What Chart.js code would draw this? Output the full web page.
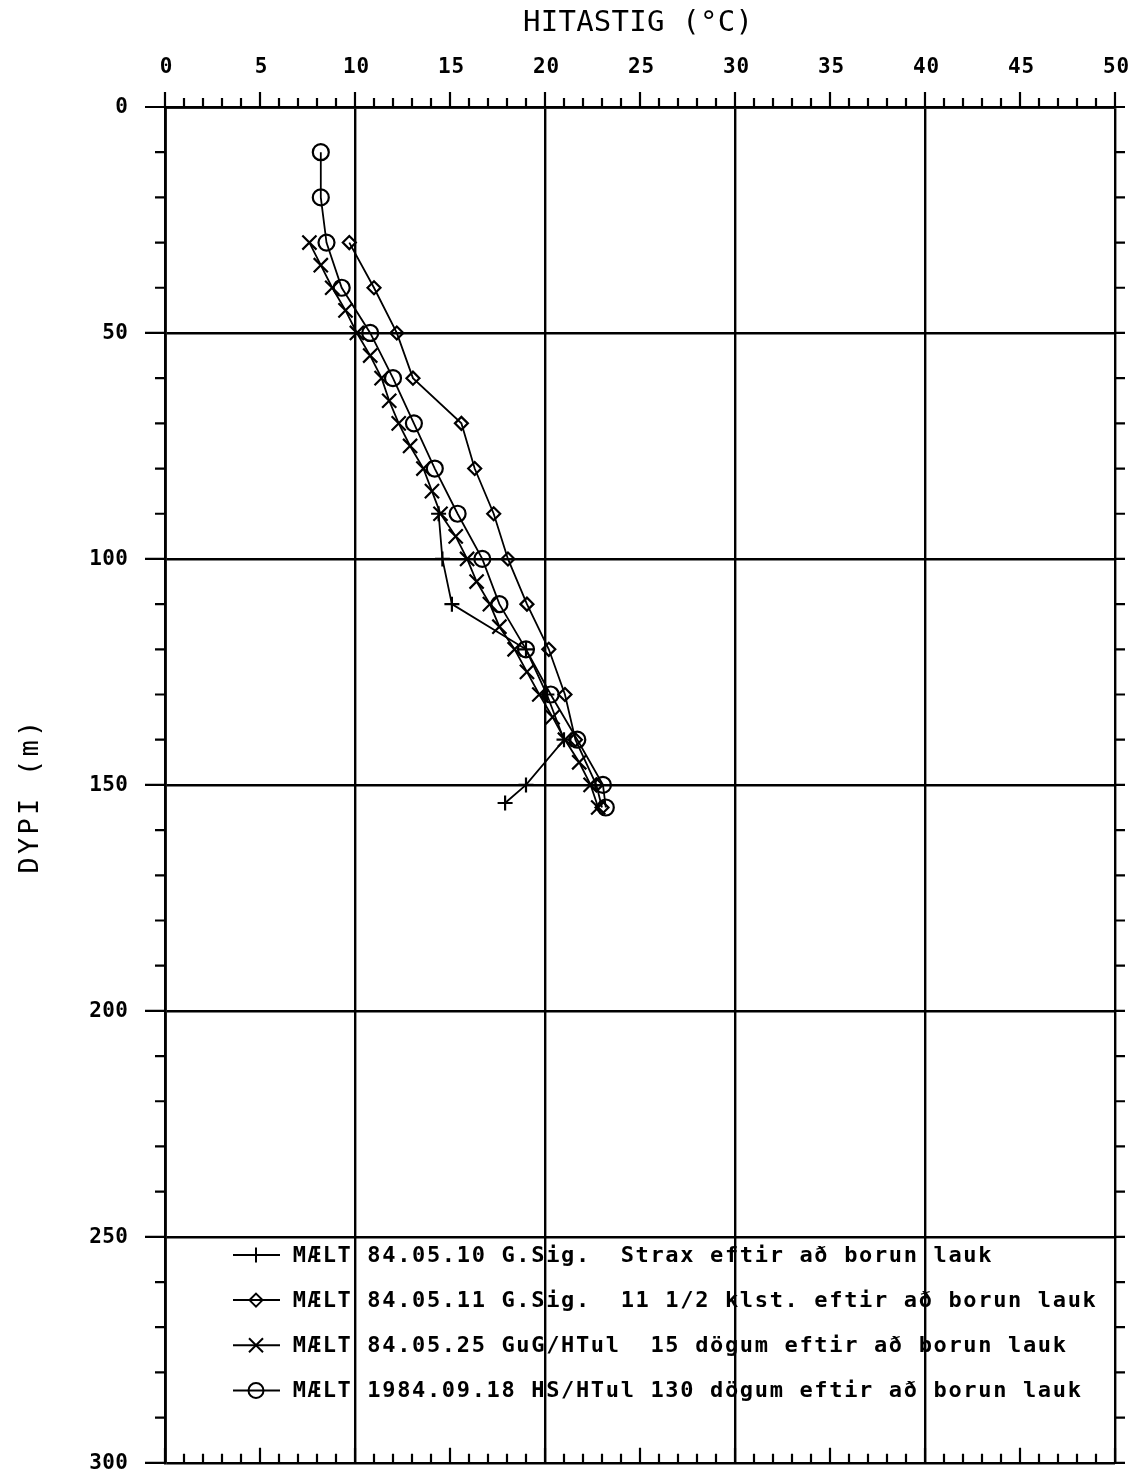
<!DOCTYPE html>
<html>
<head>
<meta charset="utf-8">
<script src="https://cdn.jsdelivr.net/npm/chart.js@4.4.1/dist/chart.umd.min.js"></script>
<style>
    html, body { margin: 0; padding: 0; background: #fff; }
    canvas { display: block; }
</style>
</head>
<body>
<canvas id="board" width="1129" height="1475"></canvas>
<script>
// temperature logs (°C) against depth (m), one pair of arrays per run
const depthStrax = [90, 100, 110, 120, 130, 140, 150, 154];
const tempStrax  = [14.4, 14.6, 15.1, 19.0, 20.1, 21.0, 19.0, 17.9];

const depthKlst = [30, 40, 50, 60, 70, 80, 90, 100, 110, 120, 130, 140, 150, 155];
const tempKlst  = [9.7, 11.0, 12.2, 13.05, 15.6, 16.3, 17.3, 18.05, 19.05, 20.2, 21.05, 21.6, 22.7, 23.0];

const depth15 = [30, 35, 40, 45, 50, 55, 60, 65, 70, 75, 80, 85, 90, 95, 100,
    105, 110, 115, 120, 125, 130, 135, 140, 145, 150, 155];
const temp15  = [7.6, 8.2, 8.8, 9.5, 10.1, 10.8, 11.4, 11.8, 12.3, 12.9, 13.6, 14.05, 14.5, 15.3, 15.9,
    16.4, 17.1, 17.6, 18.4, 19.05, 19.7, 20.4, 21.05, 21.8, 22.4, 22.8];

const depth130 = [10, 20, 30, 40, 50, 60, 70, 80, 90, 100, 110, 120, 130, 140, 150, 155];
const temp130  = [8.2, 8.2, 8.5, 9.3, 10.8, 12.0, 13.1, 14.2, 15.4, 16.7, 17.6, 19.0, 20.3, 21.7, 23.05, 23.2];

const xTickLabels = ['0', '5', '10', '15', '20', '25', '30', '35', '40', '45', '50'];
const yTickLabels = ['0', '50', '100', '150', '200', '250', '300'];

const legendTexts = [
    'MÆLT 84.05.10 G.Sig.  Strax eftir að borun lauk',
    'MÆLT 84.05.11 G.Sig.  11 1/2 klst. eftir að borun lauk',
    'MÆLT 84.05.25 GuG/HTul  15 dögum eftir að borun lauk',
    'MÆLT 1984.09.18 HS/HTul 130 dögum eftir að borun lauk'
];

function toPoints(temps, depths) {
    let arr = [];
    for (let i = 0; i < temps.length; ++i) {
        arr.push({ x: temps[i], y: depths[i] });
    }
    return arr;
}

const markers = [
    { pointStyle: 'cross', radius: 7.5 },
    { pointStyle: 'rectRot', radius: 6.5 },
    { pointStyle: 'crossRot', radius: 10 },
    { pointStyle: 'circle', radius: 8 }
];

function makeSet(temps, depths, m) {
    return {
        data: toPoints(temps, depths),
        showLine: true,
        borderColor: '#000',
        borderWidth: 1.8,
        backgroundColor: 'rgba(0,0,0,0)',
        pointStyle: m.pointStyle,
        pointRadius: m.radius,
        pointBorderWidth: 2.2,
        pointBorderColor: '#000',
        pointBackgroundColor: 'rgba(0,0,0,0)',
        tension: 0
    };
}

// fixed-advance text, like the old plotter lettering
function drawMono(ctx, str, x, y, adv) {
    ctx.textAlign = 'center';
    for (let i = 0; i < str.length; ++i) {
        ctx.fillText(str[i], x + adv * (i + 0.5), y);
    }
}

function drawMarker(ctx, style, x, y) {
    ctx.beginPath();
    if (style === 'cross') {
        ctx.moveTo(x - 7.5, y); ctx.lineTo(x + 7.5, y);
        ctx.moveTo(x, y - 7.5); ctx.lineTo(x, y + 7.5);
    } else if (style === 'rectRot') {
        ctx.moveTo(x, y - 6.5); ctx.lineTo(x + 6.5, y);
        ctx.lineTo(x, y + 6.5); ctx.lineTo(x - 6.5, y); ctx.closePath();
    } else if (style === 'crossRot') {
        ctx.moveTo(x - 7, y - 7); ctx.lineTo(x + 7, y + 7);
        ctx.moveTo(x + 7, y - 7); ctx.lineTo(x - 7, y + 7);
    } else {
        ctx.arc(x, y, 7.5, 0, Math.PI * 2);
    }
    ctx.stroke();
}

const plotterAxes = {
    id: 'plotterAxes',
    afterDraw(chart) {
        const ctx = chart.ctx;
        const xs = chart.scales.x;
        const ys = chart.scales.y;
        const area = chart.chartArea;

        ctx.save();
        ctx.strokeStyle = '#000';
        ctx.fillStyle = '#000';
        ctx.lineWidth = 2.2;

        // small ticks every degree, longer every 5
        ctx.beginPath();
        for (let t = 0; t <= 50; ++t) {
            const px = xs.getPixelForValue(t);
            const len = t % 5 === 0 ? 15 : 9;
            ctx.moveTo(px, area.top); ctx.lineTo(px, area.top - len);
            ctx.moveTo(px, area.bottom); ctx.lineTo(px, area.bottom - len);
        }
        // depth ticks every 10 m
        for (let d = 0; d <= 300; d += 10) {
            const py = ys.getPixelForValue(d);
            const len = d % 50 === 0 ? 20 : 10;
            ctx.moveTo(area.left, py); ctx.lineTo(area.left - len, py);
            ctx.moveTo(area.right, py); ctx.lineTo(area.right + 10, py);
        }
        ctx.stroke();

        // tick labels
        ctx.font = 'bold 21px "DejaVu Sans Mono"';
        ctx.textBaseline = 'middle';
        xTickLabels.forEach((lab) => {
            const px = xs.getPixelForValue(Number(lab));
            const adv = 13.5;
            drawMono(ctx, lab, px - adv * lab.length / 2 + 1, area.top - 39, adv);
        });
        yTickLabels.forEach((lab) => {
            const py = ys.getPixelForValue(Number(lab));
            const adv = 13;
            drawMono(ctx, lab, 128 - adv * lab.length, py + 1, adv);
        });

        // axis titles
        ctx.font = '29px "DejaVu Sans Mono"';
        const title = 'HITASTIG (°C)';
        drawMono(ctx, title, 638 - 17.7 * title.length / 2, 23, 17.7);

        ctx.save();
        ctx.translate(31, 797);
        ctx.rotate(-Math.PI / 2);
        ctx.font = '27px "DejaVu Sans Mono"';
        const ylab = 'DYPI (m)';
        drawMono(ctx, ylab, -19.5 * ylab.length / 2, 0, 19.5);
        ctx.restore();

        // legend block inside the plot, near the bottom
        ctx.font = 'bold 22px "DejaVu Sans Mono"';
        ctx.lineWidth = 2;
        legendTexts.forEach((txt, i) => {
            const py = ys.getPixelForValue(254 + i * 10);
            ctx.beginPath();
            ctx.moveTo(233, py); ctx.lineTo(280, py);
            ctx.stroke();
            drawMarker(ctx, markers[i].pointStyle, 256, py);
            drawMono(ctx, txt, 292, py + 1, 14.9);
        });

        ctx.restore();
    }
};

const config = {
    type: 'scatter',
    data: {
        datasets: [
            makeSet(tempStrax, depthStrax, markers[0]),
            makeSet(tempKlst, depthKlst, markers[1]),
            makeSet(temp15, depth15, markers[2]),
            makeSet(temp130, depth130, markers[3])
        ]
    },
    options: {
        responsive: false,
        animation: false,
        layout: { padding: { left: 165, right: 14, top: 107, bottom: 8 } },
        plugins: {
            legend: { display: false },
            tooltip: { enabled: false }
        },
        scales: {
            x: {
                type: 'linear',
                position: 'top',
                min: 0,
                max: 50,
                ticks: { stepSize: 10, display: false },
                grid: { color: '#000', lineWidth: 2.4, drawTicks: false },
                border: { color: '#000', width: 2.8 }
            },
            y: {
                type: 'linear',
                reverse: true,
                min: 0,
                max: 300,
                ticks: { stepSize: 50, display: false },
                grid: { color: '#000', lineWidth: 2.4, drawTicks: false },
                border: { color: '#000', width: 2.8 }
            }
        }
    },
    plugins: [plotterAxes]
};

const board = document.getElementById('board');
const myChart = new Chart(board.getContext('2d'), config);
</script>
</body>
</html>
